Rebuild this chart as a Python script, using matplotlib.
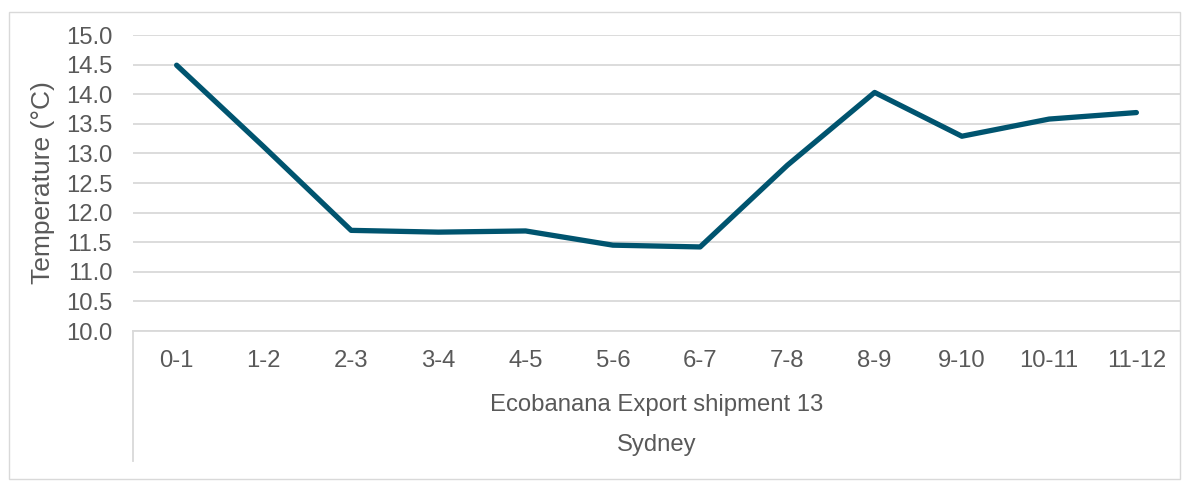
import matplotlib
matplotlib.use("Agg")
import matplotlib.pyplot as plt
from matplotlib.lines import Line2D
from matplotlib.patches import Rectangle

categories = ["0-1", "1-2", "2-3", "3-4", "4-5", "5-6", "6-7", "7-8", "8-9", "9-10", "10-11", "11-12"]
temps = [14.49, 13.11, 11.70, 11.67, 11.69, 11.45, 11.42, 12.80, 14.03, 13.29, 13.58, 13.69]
group_label = "Ecobanana Export shipment 13"
outer_label = "Sydney"
y_label = "Temperature (°C)"
y_ticks = [10.0, 10.5, 11.0, 11.5, 12.0, 12.5, 13.0, 13.5, 14.0, 14.5, 15.0]

plt.rcParams['font.family'] = ['Liberation Sans', 'DejaVu Sans']
TXT = "#595959"
GRID = "#D9D9D9"
LINE = "#00546F"
FS = 17.2

W, H = 1184, 484
fig = plt.figure(figsize=(W / 100, H / 100), dpi=100)

# outer chart border
fig.patches.append(Rectangle((9 / W, (H - 479) / H), (1180 - 9) / W, (479 - 12) / H,
                             transform=fig.transFigure, fill=False, edgecolor=GRID, linewidth=1.0))

left, right = 133 / W, 1180 / W
bottom, top = (H - 331) / H, (H - 35) / H
ax = fig.add_axes([left, bottom, right - left, top - bottom])

x = list(range(len(categories)))
ax.plot(x, temps, color=LINE, linewidth=3.8, solid_capstyle='round', solid_joinstyle='round', zorder=3)

ax.set_xlim(-0.5, len(categories) - 0.5)
ax.set_ylim(10.0, 15.0)
ax.set_yticks(y_ticks)
ax.set_yticklabels([f"{v:.1f}" for v in y_ticks])
ax.yaxis.grid(True, color=GRID, linewidth=1.3)
ax.set_axisbelow(True)
for s in ["top", "right", "left"]:
    ax.spines[s].set_visible(False)
ax.spines["bottom"].set_color(GRID)
ax.spines["bottom"].set_linewidth(1.3)
ax.tick_params(axis='y', length=0, pad=15, labelsize=FS, labelcolor=TXT)
ax.set_xticks(x)
ax.set_xticklabels([])
ax.tick_params(axis='x', length=0)

tr = ax.get_xaxis_transform()
ah = 331 - 35
for xi, lab in zip(x, categories):
    ax.text(xi, (331 - 361) / ah, lab, transform=tr, ha='center', va='center',
            fontsize=FS, color=TXT)
mid = (len(categories) - 1) / 2
ax.text(mid, (331 - 405) / ah, group_label, transform=tr, ha='center', va='center',
        fontsize=FS, color=TXT)
ax.text(mid, (331 - 445) / ah, outer_label, transform=tr, ha='center', va='center',
        fontsize=FS, color=TXT)

# left separator of the category axis
fig.lines.append(Line2D([left, left], [bottom, (H - 461) / H], transform=fig.transFigure,
                        color=GRID, linewidth=1.3))

fig.text(43 / W, (H - 183) / H, y_label, rotation=90, ha='center', va='center',
         fontsize=19, color=TXT)

fig.savefig("out.png", dpi=100, facecolor="white")
